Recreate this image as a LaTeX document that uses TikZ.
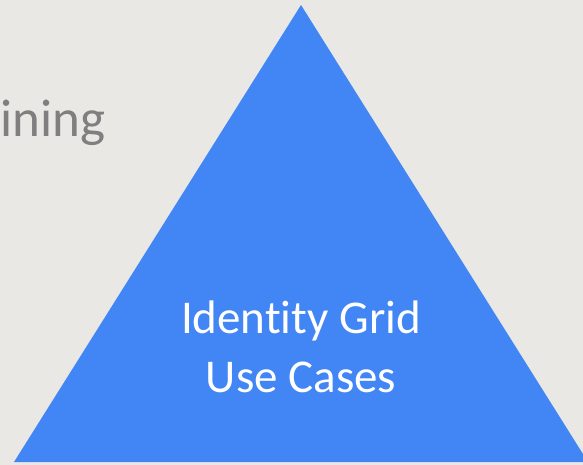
\documentclass[tikz,border=0pt]{standalone}
\usepackage{fontspec}
\setmainfont[Ligatures={NoCommon}]{Carlito}
\definecolor{bgc}{HTML}{EAE8E5}
\definecolor{tric}{HTML}{4285F4}
\definecolor{greytext}{HTML}{7F7F7F}
\tikzset{
  tri/.style={fill=tric},
  whitetext/.style={text=white, font=\fontsize{47}{59}\selectfont, align=center, inner sep=0pt},
  sidetext/.style={text=greytext, font=\fontsize{53}{60}\selectfont, inner sep=0pt, anchor=base west}
}
\begin{document}
\begin{tikzpicture}[x=1pt,y=-1pt]
\useasboundingbox (0,0) rectangle (583,465);
\fill[bgc] (0,0) rectangle (583,465);
\begin{scope}
\clip (0,0) rectangle (583,465);
\fill[tri] (301,5) -- (14,462) -- (588,462) -- cycle;
\end{scope}
\node[sidetext] (side) at (0,137) {ining};
\node[whitetext, anchor=base] (l1) at (301,333) {Identity Grid};
\node[whitetext, anchor=base] (l2) at (301,392) {Use Cases};
\end{tikzpicture}
\end{document}
